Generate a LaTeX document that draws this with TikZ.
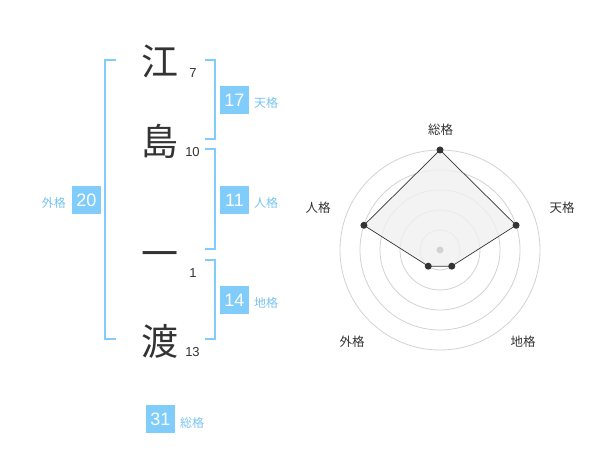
\documentclass[tikz,border=0pt]{standalone}
\usepackage{fontspec}
\setmainfont{Liberation Sans}
\newfontfamily\jp{Noto Sans CJK JP}
\definecolor{kblue}{RGB}{128,204,250}
\definecolor{klabel}{RGB}{120,196,240}
\definecolor{kdark}{RGB}{51,51,51}
\definecolor{kring}{RGB}{210,210,210}
\definecolor{kfill}{RGB}{240,240,240}
\begin{document}
\begin{tikzpicture}[x=1pt,y=-1pt,
  kanji/.style={font=\jp\fontsize{37}{37}\selectfont, text=kdark, inner sep=0pt},
  stroke/.style={font=\fontsize{13}{13}\selectfont, text=kdark, inner sep=0pt},
  numbox/.style={fill=kblue, text=white, font=\fontsize{18}{18}\selectfont, minimum width=29pt, minimum height=28pt, inner sep=0pt},
  kaku/.style={font=\jp\fontsize{12}{12}\selectfont, text=klabel, inner sep=0pt},
  bracket/.style={draw=kblue, line width=2pt},
  ring/.style={draw=kring, line width=0.8pt},
  rlabel/.style={font=\jp\fontsize{12.5}{12.5}\selectfont, text=kdark, inner sep=0pt},
  dot/.style={circle, fill=kdark, minimum size=7pt, inner sep=0pt}]
\useasboundingbox (0,0) rectangle (600,470);
% characters
\node[kanji] (c1) at (160,61) {江};
\node[kanji] (c2) at (160,141) {島};
\node[kanji] (c3) at (160,260) {一};
\node[kanji] (c4) at (160,341) {渡};
\node[stroke] (s1) at (193,73) {7};
\node[stroke] (s2) at (192.5,152) {10};
\node[stroke] (s3) at (193,273) {1};
\node[stroke] (s4) at (192.5,352) {13};
% brackets
\draw[bracket] (115.5,60) -- (105,60) -- (105,339) -- (115.5,339);
\draw[bracket] (205,60) -- (215,60) -- (215,139) -- (205,139);
\draw[bracket] (205,149.5) -- (215,149.5) -- (215,249) -- (205,249);
\draw[bracket] (205,260) -- (215,260) -- (215,339) -- (205,339);
% boxes
\node[numbox] (ten) at (234.5,100) {17};
\node[kaku, anchor=west] (tenl) at (254,103) {天格};
\node[numbox] (jin) at (234.5,200) {11};
\node[kaku, anchor=west] (jinl) at (254,203) {人格};
\node[numbox] (chi) at (234.5,300) {14};
\node[kaku, anchor=west] (chil) at (254,303) {地格};
\node[numbox] (gai) at (86.5,200) {20};
\node[kaku, anchor=east] (gail) at (66,203) {外格};
\node[numbox] (sou) at (160.5,419) {31};
\node[kaku, anchor=west] (soul) at (180,423) {総格};
% radar
\begin{scope}[shift={(440,250)},yscale=-1]
  \foreach \r in {20,40,60,80,100} \draw[ring] (0,0) circle (\r);
  \coordinate (pS) at (90:100);
  \coordinate (pT) at (18:80);
  \coordinate (pC) at (-54:20);
  \coordinate (pG) at (-126:20);
  \coordinate (pJ) at (162:80);
  \draw[kdark, line width=0.7pt, fill=kfill, fill opacity=0.8] (pS) -- (pT) -- (pC) -- (pG) -- (pJ) -- cycle;
  \node[circle, fill=kring, minimum size=7pt, inner sep=0pt] (ctr) at (0,0) {};
  \node[dot] (dS) at (pS) {};
  \node[dot] (dT) at (pT) {};
  \node[dot] (dC) at (pC) {};
  \node[dot] (dG) at (pG) {};
  \node[dot] (dJ) at (pJ) {};
\end{scope}
\node[rlabel] (lS) at (440.5,130) {総格};
\node[rlabel] (lT) at (562,208) {天格};
\node[rlabel] (lJ) at (318,208) {人格};
\node[rlabel] (lG) at (352,342) {外格};
\node[rlabel] (lC) at (523,342) {地格};
\end{tikzpicture}
\end{document}
